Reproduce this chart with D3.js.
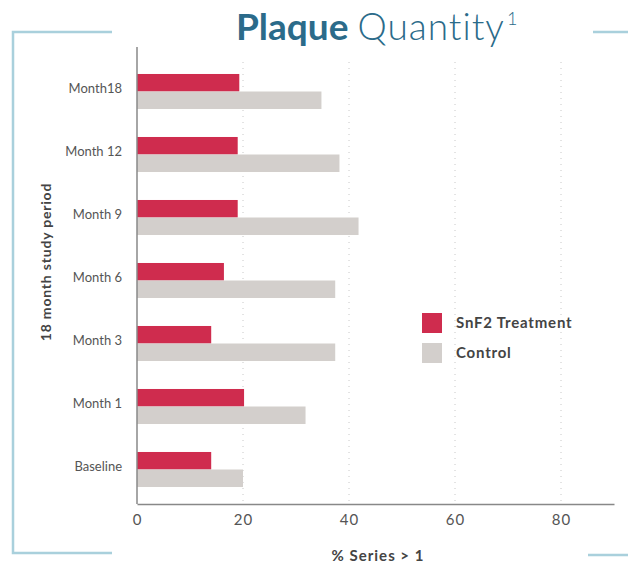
<!DOCTYPE html>
<html>
<head>
<meta charset="utf-8">
<script src="https://cdn.jsdelivr.net/npm/d3@7"></script>
<style>
  body { margin: 0; background: #fff; }
  svg { font-family: Lato, "Open Sans", sans-serif; }
</style>
</head>
<body>
<div id="chart"></div>
<script>
// Data
const periods = ['Month18', 'Month 12', 'Month 9', 'Month 6', 'Month 3', 'Month 1', 'Baseline'];
const treatment = [19.3, 19.0, 19.0, 16.4, 14.0, 20.2, 14.0];
const control = [34.8, 38.2, 41.8, 37.4, 37.4, 31.8, 20.0];
const seriesNames = ['SnF2 Treatment', 'Control'];
const xTicks = [0, 20, 40, 60, 80];

const colors = ['#cf2c4e', '#d3cfcc'];
const bracketColor = '#a9d0dc';

const width = 628, height = 566;
const svg = d3.select('#chart').append('svg')
    .attr('width', width)
    .attr('height', height);

// Scales
const x = d3.scaleLinear().domain([0, 90]).range([137, 614]);
const y = d3.scaleBand().domain(periods).range([60, 501])
    .paddingInner(0.444).paddingOuter(0.222);
const ySub = d3.scaleBand().domain(seriesNames).range([0, y.bandwidth()]);

// Bracket frame
svg.append('path')
    .attr('d', 'M112,32H13V553H112')
    .attr('fill', 'none').attr('stroke', bracketColor).attr('stroke-width', 2.5);
svg.append('line').attr('x1', 593).attr('x2', 628).attr('y1', 32).attr('y2', 32)
    .attr('stroke', bracketColor).attr('stroke-width', 2.5);
svg.append('line').attr('x1', 588).attr('x2', 628).attr('y1', 555).attr('y2', 555)
    .attr('stroke', bracketColor).attr('stroke-width', 2.5);

// Title
const title = svg.append('text')
    .attr('x', 236).attr('y', 40)
    .attr('fill', '#2b6b8a')
    .style('font-size', '37px');
title.append('tspan').attr('font-weight', 700).text('Plaque ');
title.append('tspan').attr('font-weight', 300).style('letter-spacing', '1px').text('Quantity');
title.append('tspan').attr('font-weight', 300).attr('dx', 2).attr('dy', -15)
    .style('font-size', '18px').text('1');

// Dotted gridlines
svg.append('g')
    .selectAll('line')
    .data(xTicks.slice(1))
    .join('line')
    .attr('x1', d => x(d)).attr('x2', d => x(d))
    .attr('y1', 62).attr('y2', 504)
    .attr('stroke', '#c8c8c8')
    .attr('stroke-dasharray', '1,5');

// Bars
const groups = svg.append('g')
    .selectAll('g')
    .data(periods)
    .join('g')
    .attr('transform', d => `translate(0,${y(d)})`);

groups.selectAll('rect')
    .data((d, i) => [
        { key: seriesNames[0], value: treatment[i] },
        { key: seriesNames[1], value: control[i] }
    ])
    .join('rect')
    .attr('x', x(0))
    .attr('y', d => ySub(d.key))
    .attr('width', d => x(d.value) - x(0))
    .attr('height', ySub.bandwidth())
    .attr('fill', (d, i) => colors[i]);

// Axes
const xAxis = svg.append('g')
    .attr('transform', 'translate(0,504)')
    .call(d3.axisBottom(x).tickValues(xTicks).tickSize(0).tickPadding(10));
xAxis.select('.domain').attr('stroke', '#888').attr('stroke-width', 1.5);
xAxis.selectAll('text')
    .attr('fill', '#555')
    .style('font-size', '15px')
    .style('letter-spacing', '1px')
    .style('font-family', 'Lato, sans-serif');

svg.append('line')
    .attr('x1', x(0)).attr('x2', x(0))
    .attr('y1', 47).attr('y2', 504)
    .attr('stroke', '#888').attr('stroke-width', 1.5);

// Category labels
svg.append('g')
    .selectAll('text')
    .data(periods)
    .join('text')
    .attr('x', 122)
    .attr('y', d => y(d) + y.bandwidth() / 2 - 3)
    .attr('dy', '0.35em')
    .attr('text-anchor', 'end')
    .attr('fill', '#555')
    .style('font-size', '13px')
    .text(d => d);

// Axis titles
svg.append('text')
    .attr('transform', 'translate(46,262) rotate(-90)')
    .attr('text-anchor', 'middle')
    .attr('dy', '0.35em')
    .attr('fill', '#444')
    .attr('font-weight', 700)
    .style('font-size', '14px')
    .style('letter-spacing', '0.8px')
    .text('18 month study period');

svg.append('text')
    .attr('x', 378).attr('y', 556)
    .attr('dy', '0.35em')
    .attr('text-anchor', 'middle')
    .attr('fill', '#444')
    .attr('font-weight', 700)
    .style('font-size', '15px')
    .style('letter-spacing', '1px')
    .text('% Series > 1');

// Legend
const legend = svg.append('g')
    .selectAll('g')
    .data(seriesNames)
    .join('g')
    .attr('transform', (d, i) => `translate(422,${313 + i * 30})`);
legend.append('rect')
    .attr('width', 20).attr('height', 20)
    .attr('fill', (d, i) => colors[i]);
legend.append('text')
    .attr('x', 34).attr('y', 10)
    .attr('dy', '0.35em')
    .attr('fill', '#444')
    .attr('font-weight', 700)
    .style('font-size', '15px')
    .style('letter-spacing', '0.8px')
    .text(d => d);
</script>
</body>
</html>
